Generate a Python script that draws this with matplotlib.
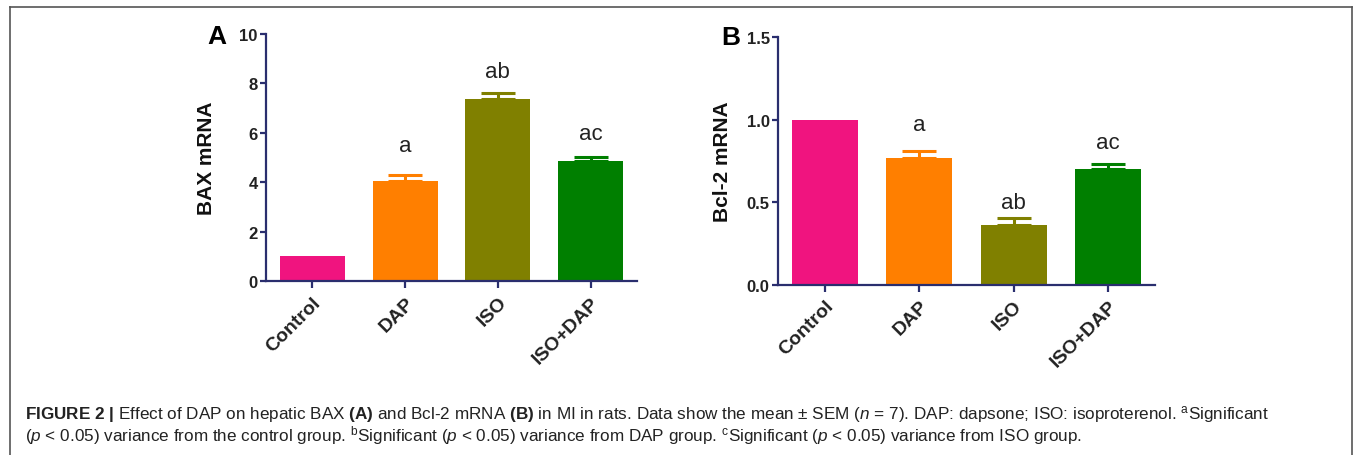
import matplotlib
matplotlib.use("Agg")
import matplotlib.pyplot as plt
from matplotlib.lines import Line2D

plt.rcParams['font.family'] = ['Liberation Sans', 'DejaVu Sans']
plt.rcParams['mathtext.fontset'] = 'custom'
plt.rcParams['mathtext.rm'] = 'Liberation Sans'
plt.rcParams['mathtext.it'] = 'Liberation Sans:italic'
plt.rcParams['mathtext.bf'] = 'Liberation Sans:bold'

# ---- data ----
groups = ["Control", "DAP", "ISO", "ISO+DAP"]
colors = ["#F0147F", "#FF7F00", "#808000", "#007F00"]

bax_mean = [1.0, 4.06, 7.38, 4.86]
bax_sem = [0.0, 0.24, 0.25, 0.15]
bax_labels = ["", "a", "ab", "ac"]
bax_label_y = [None, 5.47, 8.5, 5.98]
bax_ticks = [0, 2, 4, 6, 8, 10]

bcl_mean = [1.0, 0.768, 0.362, 0.70]
bcl_sem = [0.0, 0.041, 0.041, 0.031]
bcl_labels = ["", "a", "ab", "ac"]
bcl_label_y = [None, 0.97, 0.50, 0.86]
bcl_ticks = [0.0, 0.5, 1.0, 1.5]

W, H = 1355, 456
fig = plt.figure(figsize=(W / 100, H / 100), dpi=100)
AX = "#2A2E6E"


def panel(rect, means, sems, labels, label_y, ticks, ylim, ylabel, fmt):
    ax = fig.add_axes(rect)
    x = list(range(len(groups)))
    ax.bar(x, means, width=0.7, color=colors, edgecolor='none', zorder=2)
    for xi, m, s, c in zip(x, means, sems, colors):
        if s > 0:
            ax.errorbar([xi], [m], yerr=[[0], [s]], fmt='none', ecolor=c,
                        elinewidth=2.2, capsize=12, capthick=2.2, zorder=3)
    for xi, lab, ly in zip(x, labels, label_y):
        if lab:
            ax.text(xi, ly, lab, ha='center', va='center', fontsize=16, color='#222222')
    ax.set_xlim(-0.5, 3.5)
    ax.set_ylim(*ylim)
    ax.set_yticks(ticks)
    ax.set_yticklabels([fmt.format(t) for t in ticks], fontsize=12, fontweight='bold', color='#222222')
    ax.set_xticks(x)
    ax.set_xticklabels(groups, rotation=45, ha='right', va='top', rotation_mode='anchor',
                       fontsize=14, fontweight='bold', color='#222222')
    ax.set_ylabel(ylabel, fontsize=15, fontweight='bold', color='#111111')
    for sp in ['top', 'right']:
        ax.spines[sp].set_visible(False)
    for sp in ['left', 'bottom']:
        ax.spines[sp].set_color(AX)
        ax.spines[sp].set_linewidth(1.6)
    ax.tick_params(axis='y', color=AX, width=1.6, length=4, pad=2)
    ax.tick_params(axis='x', color=AX, width=1.6, length=5, pad=4)
    ax.patch.set_alpha(0)
    return ax


axA = panel([266 / W, 1 - 282 / H, (637 - 266) / W, (282 - 35) / H],
            bax_mean, bax_sem, bax_labels, bax_label_y, bax_ticks, (0, 10),
            "BAX mRNA", "{:g}")
axB = panel([778 / W, 1 - 285.7 / H, (1155 - 778) / W, (285.7 - 38.3) / H],
            bcl_mean, bcl_sem, bcl_labels, bcl_label_y, bcl_ticks, (0, 1.5),
            "Bcl-2 mRNA", "{:.1f}")
axA.yaxis.set_label_coords(-0.135, 0.5)
axB.yaxis.set_label_coords(-0.123, 0.5)

fig.text(217 / W, 1 - 37 / H, "A", fontsize=19, fontweight='bold', ha='center', va='center')
fig.text(731 / W, 1 - 38 / H, "B", fontsize=19, fontweight='bold', ha='center', va='center')

# frame
fc = "#555555"
fig.add_artist(Line2D([10 / W, 10 / W], [0, 1 - 8 / H], color=fc, lw=1.2))
fig.add_artist(Line2D([10 / W, 1352 / W], [1 - 8 / H, 1 - 8 / H], color=fc, lw=1.2))
fig.add_artist(Line2D([1352 / W, 1352 / W], [0, 1 - 8 / H], color=fc, lw=1.2))

line1 = (r"$\mathbf{FIGURE\ 2\ |}$ Effect of DAP on hepatic BAX $\mathbf{(A)}$ and Bcl-2 mRNA "
         r"$\mathbf{(B)}$ in MI in rats. Data show the mean ± SEM ($\mathit{n}$ = 7). DAP: dapsone; "
         r"ISO: isoproterenol. ${}^{\mathrm{a}}$Significant")
line2 = (r"($\mathit{p}$ < 0.05) variance from the control group. ${}^{\mathrm{b}}$Significant "
         r"($\mathit{p}$ < 0.05) variance from DAP group. ${}^{\mathrm{c}}$Significant "
         r"($\mathit{p}$ < 0.05) variance from ISO group.")
fig.text(25 / W, 1 - 419 / H, line1, fontsize=12.3, color='#222222', ha='left', va='baseline')
fig.text(25 / W, 1 - 441.5 / H, line2, fontsize=12.3, color='#222222', ha='left', va='baseline')

fig.savefig("out.png", dpi=100)
